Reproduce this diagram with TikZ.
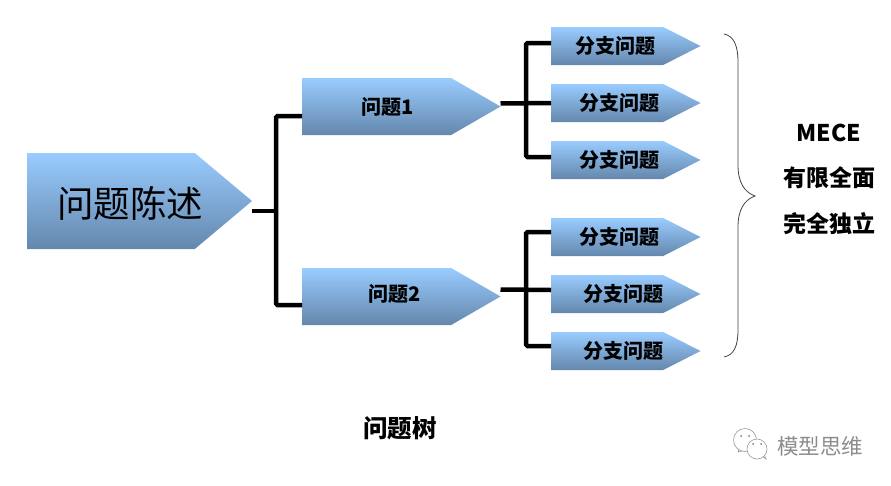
\documentclass[tikz,border=0pt]{standalone}
\usepackage{fontspec}
\setmainfont{Noto Sans CJK SC}
\usepackage{tikz}
\usetikzlibrary{shapes.symbols}

\definecolor{boxtop}{RGB}{153,204,255}
\definecolor{boxbottom}{RGB}{100,135,172}
\tikzset{
    arrowbox/.style={signal, signal to=east, top color=boxtop, bottom color=boxbottom, inner sep=0pt, outer sep=0pt, anchor=west},
    mainbox/.style={arrowbox, minimum width=225pt, minimum height=96pt, signal pointer angle=80},
    midbox/.style={arrowbox, minimum width=198.5pt, minimum height=57pt, signal pointer angle=60},
    leafbox/.style={arrowbox, minimum width=149.5pt, minimum height=38pt, signal pointer angle=54},
    boxtext/.style={font=\bfseries\fontsize{20pt}{20pt}\selectfont},
    sidetext/.style={font=\bfseries\fontsize{23pt}{23pt}\selectfont},
    branch/.style={line width=4.5pt, rounded corners=1.5pt},
}

\begin{document}
\begin{tikzpicture}[x=1pt, y=-1pt]
    \useasboundingbox (0,0) rectangle (891,485);

    \node (main) [mainbox, label={[xshift=19.5pt, yshift=-2pt, font=\fontsize{36.5pt}{36.5pt}\selectfont]center:问题陈述}] at (27,201) {};
    \node (q1) [midbox, label={[xshift=11.5pt, boxtext]center:问题1}] at (302,106.5) {};
    \node (q2) [midbox, label={[xshift=18pt, yshift=3pt, boxtext]center:问题2}] at (302,296.5) {};

    \node (s1) [leafbox, label={[xshift=8.5pt, boxtext]center:分支问题}] at (551,46) {};
    \node (s2) [leafbox, label={[xshift=12pt, boxtext]center:分支问题}] at (551,103) {};
    \node (s3) [leafbox, label={[xshift=12pt, boxtext]center:分支问题}] at (551,160) {};
    \node (s4) [leafbox, label={[xshift=12pt, boxtext]center:分支问题}] at (551,237) {};
    \node (s5) [leafbox, label={[xshift=16pt, boxtext]center:分支问题}] at (551,294) {};
    \node (s6) [leafbox, label={[xshift=16pt, boxtext]center:分支问题}] at (551,351) {};

    \coordinate (j0) at (276,211);
    \coordinate (j1) at (526,103);
    \coordinate (j2) at (526,290);

    \draw[branch] ([yshift=-10pt]main.east) -- (j0);
    \draw[branch] ([yshift=-9.5pt]q1.west) -| (j0) |- ([yshift=-8.5pt]q2.west);

    \draw[branch] ([yshift=3pt]q1.east) -- (s2.west);
    \draw[branch] ([yshift=3pt]s1.west) -| (j1) |- ([yshift=3pt]s3.west);

    \draw[branch] ([yshift=7pt]q2.east) -- ([yshift=4pt]s5.west);
    \draw[branch] ([yshift=5pt]s4.west) -| (j2) |- ([yshift=5pt]s6.west);

    % brace
    \draw[black!75, line width=0.8pt] (724,34) .. controls (734,36) and (738,46) .. (738,62)
        -- (738,165) .. controls (738,182) and (744,192) .. (755,196)
        .. controls (744,200) and (738,210) .. (738,227)
        -- (738,330) .. controls (738,346) and (734,355) .. (724,357);

    \node (mece) [sidetext] at (829,133) {MECE};
    \node (limit) [sidetext] at (829,178) {有限全面};
    \node (indep) [sidetext] at (829,224) {完全独立};
    \node (title) [font=\bfseries\fontsize{24.5pt}{24.5pt}\selectfont] at (400,428) {问题树};

    % watermark
    \draw[black!40, line width=0.6pt] (742,441) -- (738,452) -- (746,450);
    \draw[black!40, line width=0.6pt, fill=white] (745,440) circle (11.5pt);
    \draw[black!40, line width=0.6pt] (761,455) -- (766,459) -- (763,452);
    \draw[black!40, line width=0.6pt, fill=white] (757,449) circle (10pt);
    \fill[black!50] (741,436) circle (1pt) (749,436) circle (1pt) (753,444) circle (1pt) (761,444) circle (1pt);
    \node (mark) [text=black!45, font=\fontsize{21.5pt}{21.5pt}\selectfont] at (820,446) {模型思维};
\end{tikzpicture}
\end{document}
